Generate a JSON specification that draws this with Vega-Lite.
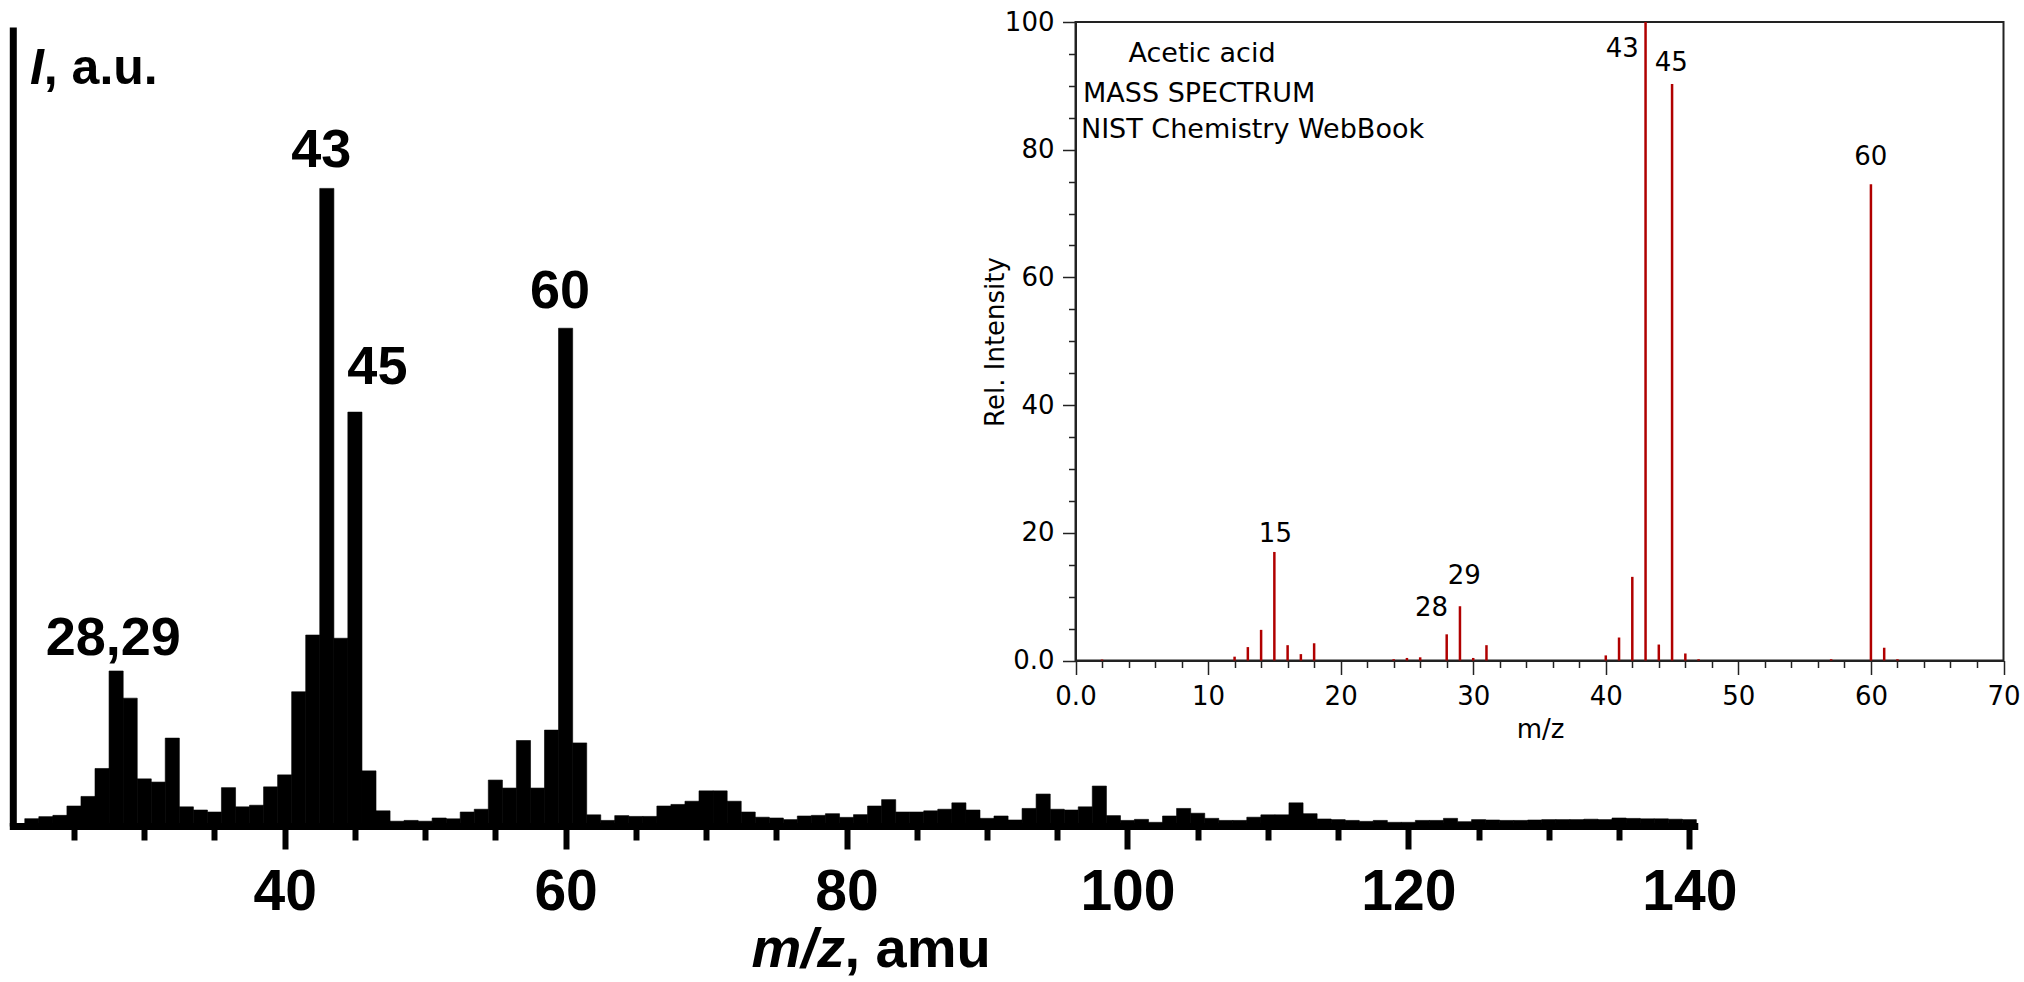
{
  "$schema": "https://vega.github.io/schema/vega-lite/v6.json",
  "width": 2024,
  "height": 982,
  "autosize": {"type": "none"},
  "padding": 0,
  "background": "white",
  "config": {"view": {"stroke": null}},
  "datasets": {
    "main": [
      {"mz": 22, "value": 0.92}, {"mz": 23, "value": 1.17}, {"mz": 24, "value": 1.33}, {"mz": 25, "value": 2.5},
      {"mz": 26, "value": 3.7}, {"mz": 27, "value": 7.2}, {"mz": 28, "value": 19.4}, {"mz": 29, "value": 16.0},
      {"mz": 30, "value": 5.9}, {"mz": 31, "value": 5.5}, {"mz": 32, "value": 11.0}, {"mz": 33, "value": 2.4},
      {"mz": 34, "value": 2.0}, {"mz": 35, "value": 1.75}, {"mz": 36, "value": 4.8}, {"mz": 37, "value": 2.4},
      {"mz": 38, "value": 2.6}, {"mz": 39, "value": 4.9}, {"mz": 40, "value": 6.4}, {"mz": 41, "value": 16.8},
      {"mz": 42, "value": 23.9}, {"mz": 43, "value": 79.8}, {"mz": 44, "value": 23.5}, {"mz": 45, "value": 51.8},
      {"mz": 46, "value": 6.9}, {"mz": 47, "value": 1.9}, {"mz": 48, "value": 0.6}, {"mz": 49, "value": 0.7},
      {"mz": 50, "value": 0.6}, {"mz": 51, "value": 1.0}, {"mz": 52, "value": 0.9}, {"mz": 53, "value": 1.75},
      {"mz": 54, "value": 2.1}, {"mz": 55, "value": 5.75}, {"mz": 56, "value": 4.75}, {"mz": 57, "value": 10.7},
      {"mz": 58, "value": 4.75}, {"mz": 59, "value": 12.0}, {"mz": 60, "value": 62.3}, {"mz": 61, "value": 10.4},
      {"mz": 62, "value": 1.4}, {"mz": 63, "value": 0.7}, {"mz": 64, "value": 1.3}, {"mz": 65, "value": 1.2},
      {"mz": 66, "value": 1.2}, {"mz": 67, "value": 2.5}, {"mz": 68, "value": 2.7}, {"mz": 69, "value": 3.1},
      {"mz": 70, "value": 4.4}, {"mz": 71, "value": 4.4}, {"mz": 72, "value": 3.1}, {"mz": 73, "value": 1.75},
      {"mz": 74, "value": 1.1}, {"mz": 75, "value": 1.0}, {"mz": 76, "value": 0.8}, {"mz": 77, "value": 1.25},
      {"mz": 78, "value": 1.33}, {"mz": 79, "value": 1.54}, {"mz": 80, "value": 1.08}, {"mz": 81, "value": 1.42},
      {"mz": 82, "value": 2.5}, {"mz": 83, "value": 3.3}, {"mz": 84, "value": 1.75}, {"mz": 85, "value": 1.75},
      {"mz": 86, "value": 1.9}, {"mz": 87, "value": 2.1}, {"mz": 88, "value": 2.9}, {"mz": 89, "value": 2.0},
      {"mz": 90, "value": 0.96}, {"mz": 91, "value": 1.25}, {"mz": 92, "value": 0.75}, {"mz": 93, "value": 2.2},
      {"mz": 94, "value": 4.0}, {"mz": 95, "value": 2.1}, {"mz": 96, "value": 2.0}, {"mz": 97, "value": 2.4},
      {"mz": 98, "value": 5.0}, {"mz": 99, "value": 1.3}, {"mz": 100, "value": 0.7}, {"mz": 101, "value": 0.83},
      {"mz": 102, "value": 0.46}, {"mz": 103, "value": 1.25}, {"mz": 104, "value": 2.2}, {"mz": 105, "value": 1.6},
      {"mz": 106, "value": 0.96}, {"mz": 107, "value": 0.7}, {"mz": 108, "value": 0.7}, {"mz": 109, "value": 1.1},
      {"mz": 110, "value": 1.4}, {"mz": 111, "value": 1.4}, {"mz": 112, "value": 2.9}, {"mz": 113, "value": 1.54},
      {"mz": 114, "value": 0.88}, {"mz": 115, "value": 0.8}, {"mz": 116, "value": 0.7}, {"mz": 117, "value": 0.58},
      {"mz": 118, "value": 0.7}, {"mz": 119, "value": 0.46}, {"mz": 120, "value": 0.46}, {"mz": 121, "value": 0.7},
      {"mz": 122, "value": 0.7}, {"mz": 123, "value": 0.96}, {"mz": 124, "value": 0.54}, {"mz": 125, "value": 0.8},
      {"mz": 126, "value": 0.75}, {"mz": 127, "value": 0.7}, {"mz": 128, "value": 0.7}, {"mz": 129, "value": 0.75},
      {"mz": 130, "value": 0.8}, {"mz": 131, "value": 0.8}, {"mz": 132, "value": 0.8}, {"mz": 133, "value": 0.85},
      {"mz": 134, "value": 0.8}, {"mz": 135, "value": 1.0}, {"mz": 136, "value": 0.95}, {"mz": 137, "value": 0.9},
      {"mz": 138, "value": 0.9}, {"mz": 139, "value": 0.85}, {"mz": 140, "value": 0.8}
    ],
    "mainPeaks": [
      {"label": "28,29", "mz": 27.8, "value": 21.4},
      {"label": "43", "mz": 42.6, "value": 82.5},
      {"label": "45", "mz": 46.6, "value": 55.3},
      {"label": "60", "mz": 59.6, "value": 64.8}
    ],
    "nist": [
      {"mz": 2, "value": 0.15}, {"mz": 12, "value": 0.6}, {"mz": 13, "value": 2.1}, {"mz": 14, "value": 4.8},
      {"mz": 15, "value": 17.0}, {"mz": 16, "value": 2.4}, {"mz": 17, "value": 1.0}, {"mz": 18, "value": 2.7},
      {"mz": 24, "value": 0.2}, {"mz": 25, "value": 0.4}, {"mz": 26, "value": 0.5}, {"mz": 28, "value": 4.1},
      {"mz": 29, "value": 8.5}, {"mz": 30, "value": 0.4}, {"mz": 31, "value": 2.4}, {"mz": 40, "value": 0.8},
      {"mz": 41, "value": 3.6}, {"mz": 42, "value": 13.1}, {"mz": 43, "value": 100}, {"mz": 44, "value": 2.5},
      {"mz": 45, "value": 90.3}, {"mz": 46, "value": 1.1}, {"mz": 47, "value": 0.2}, {"mz": 57, "value": 0.2},
      {"mz": 60, "value": 74.6}, {"mz": 61, "value": 2.0}, {"mz": 62, "value": 0.2}
    ],
    "nistLabels": [
      {"label": "15", "mz": 15.08, "value": 19.8},
      {"label": "28", "mz": 26.86, "value": 8.16},
      {"label": "29", "mz": 29.33, "value": 13.25},
      {"label": "43", "mz": 41.25, "value": 95.8},
      {"label": "45", "mz": 44.94, "value": 93.6},
      {"label": "60", "mz": 59.99, "value": 78.9}
    ],
    "nistNotes": [
      {"label": "Acetic acid", "mz": 4.0, "value": 93.75},
      {"label": "MASS SPECTRUM", "mz": 0.57, "value": 87.5},
      {"label": "NIST Chemistry WebBook", "mz": 0.41, "value": 81.9}
    ]
  },
  "layer": [
    {
      "layer": [
        {
          "data": {"name": "main"},
          "mark": {"type": "bar", "width": 14.13, "color": "black", "stroke": "black", "strokeWidth": 0.6},
          "encoding": {
            "x": {
              "field": "mz", "type": "quantitative",
              "scale": {"domain": [21, 140], "range": [12.8, 1694.3], "nice": false, "zero": false},
              "axis": {
                "orient": "bottom", "offset": -156, "title": null, "grid": false,
                "values": [25, 30, 35, 40, 45, 50, 55, 60, 65, 70, 75, 80, 85, 90, 95, 100, 105, 110, 115, 120, 125, 130, 135, 140],
                "labelExpr": "datum.value % 20 === 0 ? datum.label : ''",
                "tickSize": {"condition": {"test": "datum.value % 20 === 0", "value": 23}, "value": 14},
                "tickWidth": 6, "tickColor": "black",
                "domainColor": "black", "domainWidth": 7, "domainCap": "square",
                "labelFont": "Liberation Sans", "labelFontWeight": "bold", "labelFontSize": 57, "labelColor": "black",
                "labelPadding": 15, "labelFlush": false, "labelOverlap": false
              }
            },
            "y": {
              "field": "value", "type": "quantitative",
              "scale": {"domain": [0, 100], "range": [826, 27], "nice": false, "zero": false},
              "axis": {
                "orient": "left", "offset": -12.8, "title": null, "grid": false,
                "ticks": false, "labels": false,
                "domainColor": "black", "domainWidth": 7
              }
            }
          }
        },
        {
          "data": {"name": "mainPeaks"},
          "mark": {"type": "text", "font": "Liberation Sans", "fontWeight": "bold", "fontSize": 54, "align": "center", "baseline": "alphabetic", "color": "black"},
          "encoding": {
            "x": {"field": "mz", "type": "quantitative"},
            "y": {"field": "value", "type": "quantitative"},
            "text": {"field": "label"}
          }
        },
        {
          "data": {"values": [{}]},
          "mark": {"type": "text", "text": "I", "font": "Liberation Sans", "fontWeight": "bold", "fontStyle": "italic", "fontSize": 50, "align": "left", "baseline": "alphabetic", "color": "black"},
          "encoding": {
            "x": {"datum": 21.87, "type": "quantitative"},
            "y": {"datum": 92.9, "type": "quantitative"}
          }
        },
        {
          "data": {"values": [{}]},
          "mark": {"type": "text", "text": ", a.u.", "font": "Liberation Sans", "fontWeight": "bold", "fontSize": 50, "align": "left", "baseline": "alphabetic", "color": "black"},
          "encoding": {
            "x": {"datum": 22.85, "type": "quantitative"},
            "y": {"datum": 92.9, "type": "quantitative"}
          }
        },
        {
          "data": {"values": [{}]},
          "mark": {"type": "text", "text": "m/z", "font": "Liberation Sans", "fontWeight": "bold", "fontStyle": "italic", "fontSize": 56, "align": "left", "baseline": "alphabetic", "color": "black"},
          "encoding": {
            "x": {"datum": 73.24, "type": "quantitative"},
            "y": {"datum": -17.6, "type": "quantitative"}
          }
        },
        {
          "data": {"values": [{}]},
          "mark": {"type": "text", "text": ", amu", "font": "Liberation Sans", "fontWeight": "bold", "fontSize": 56, "align": "left", "baseline": "alphabetic", "color": "black"},
          "encoding": {
            "x": {"datum": 79.85, "type": "quantitative"},
            "y": {"datum": -17.6, "type": "quantitative"}
          }
        }
      ]
    },
    {
      "layer": [
        {
          "data": {"values": [{}]},
          "mark": {"type": "rect", "fill": null, "stroke": "#222222", "strokeWidth": 2},
          "encoding": {
            "x": {
              "datum": 0, "type": "quantitative",
              "scale": {"domain": [0, 70], "range": [1075.5, 2003.5], "nice": false, "zero": false},
              "axis": {
                "orient": "bottom", "offset": -321.5, "grid": false,
                "values": [0,1,2,3,4,5,6,7,8,9,10,11,12,13,14,15,16,17,18,19,20,21,22,23,24,25,26,27,28,29,30,31,32,33,34,35,36,37,38,39,40,41,42,43,44,45,46,47,48,49,50,51,52,53,54,55,56,57,58,59,60,61,62,63,64,65,66,67,68,69,70],
                "labelExpr": "datum.value % 10 === 0 ? (datum.value === 0 ? '0.0' : datum.label) : ''",
                "tickSize": {"condition": {"test": "datum.value % 10 === 0", "value": 14}, "value": 7},
                "tickWidth": 1.5, "tickColor": "#222222",
                "domainColor": "#222222", "domainWidth": 2,
                "labelFont": "DejaVu Sans", "labelFontSize": 26, "labelColor": "black",
                "labelPadding": 9, "labelFlush": false, "labelOverlap": false,
                "title": "m/z", "titleFont": "DejaVu Sans", "titleFontSize": 26, "titleFontWeight": "normal", "titleColor": "black",
                "titleX": 1540, "titleY": 76.5, "titleBaseline": "alphabetic", "titleAlign": "center"
              }
            },
            "x2": {"datum": 70},
            "y": {
              "datum": 0, "type": "quantitative",
              "scale": {"domain": [0, 100], "range": [660.5, 22], "nice": false, "zero": false},
              "axis": {
                "orient": "left", "offset": -1075.5, "grid": false,
                "values": [0,5,10,15,20,25,30,35,40,45,50,55,60,65,70,75,80,85,90,95,100],
                "labelExpr": "datum.value % 20 === 0 ? (datum.value === 0 ? '0.0' : datum.label) : ''",
                "tickSize": {"condition": {"test": "datum.value % 20 === 0", "value": 13}, "value": 7},
                "tickWidth": 1.5, "tickColor": "#222222",
                "domainColor": "#222222", "domainWidth": 2,
                "labelFont": "DejaVu Sans", "labelFontSize": 26, "labelColor": "black",
                "labelPadding": 8.5, "labelFlush": false, "labelOverlap": false,
                "title": "Rel. Intensity", "titleFont": "DejaVu Sans", "titleFontSize": 26, "titleFontWeight": "normal", "titleColor": "black",
                "titleX": -72, "titleY": 341.5, "titleAngle": -90, "titleBaseline": "alphabetic", "titleAlign": "center"
              }
            },
            "y2": {"datum": 100}
          }
        },
        {
          "data": {"name": "nist"},
          "mark": {"type": "rule", "color": "#b00000", "strokeWidth": 2.5},
          "encoding": {
            "x": {"field": "mz", "type": "quantitative"},
            "y": {"field": "value", "type": "quantitative"},
            "y2": {"datum": 0}
          }
        },
        {
          "data": {"name": "nistLabels"},
          "mark": {"type": "text", "font": "DejaVu Sans", "fontSize": 26, "align": "center", "baseline": "middle", "color": "black"},
          "encoding": {
            "x": {"field": "mz", "type": "quantitative"},
            "y": {"field": "value", "type": "quantitative"},
            "text": {"field": "label"}
          }
        },
        {
          "data": {"name": "nistNotes"},
          "mark": {"type": "text", "font": "DejaVu Sans", "fontSize": 27, "align": "left", "baseline": "alphabetic", "color": "black"},
          "encoding": {
            "x": {"field": "mz", "type": "quantitative"},
            "y": {"field": "value", "type": "quantitative"},
            "text": {"field": "label"}
          }
        }
      ]
    }
  ],
  "resolve": {
    "scale": {"x": "independent", "y": "independent"},
    "axis": {"x": "independent", "y": "independent"}
  }
}
